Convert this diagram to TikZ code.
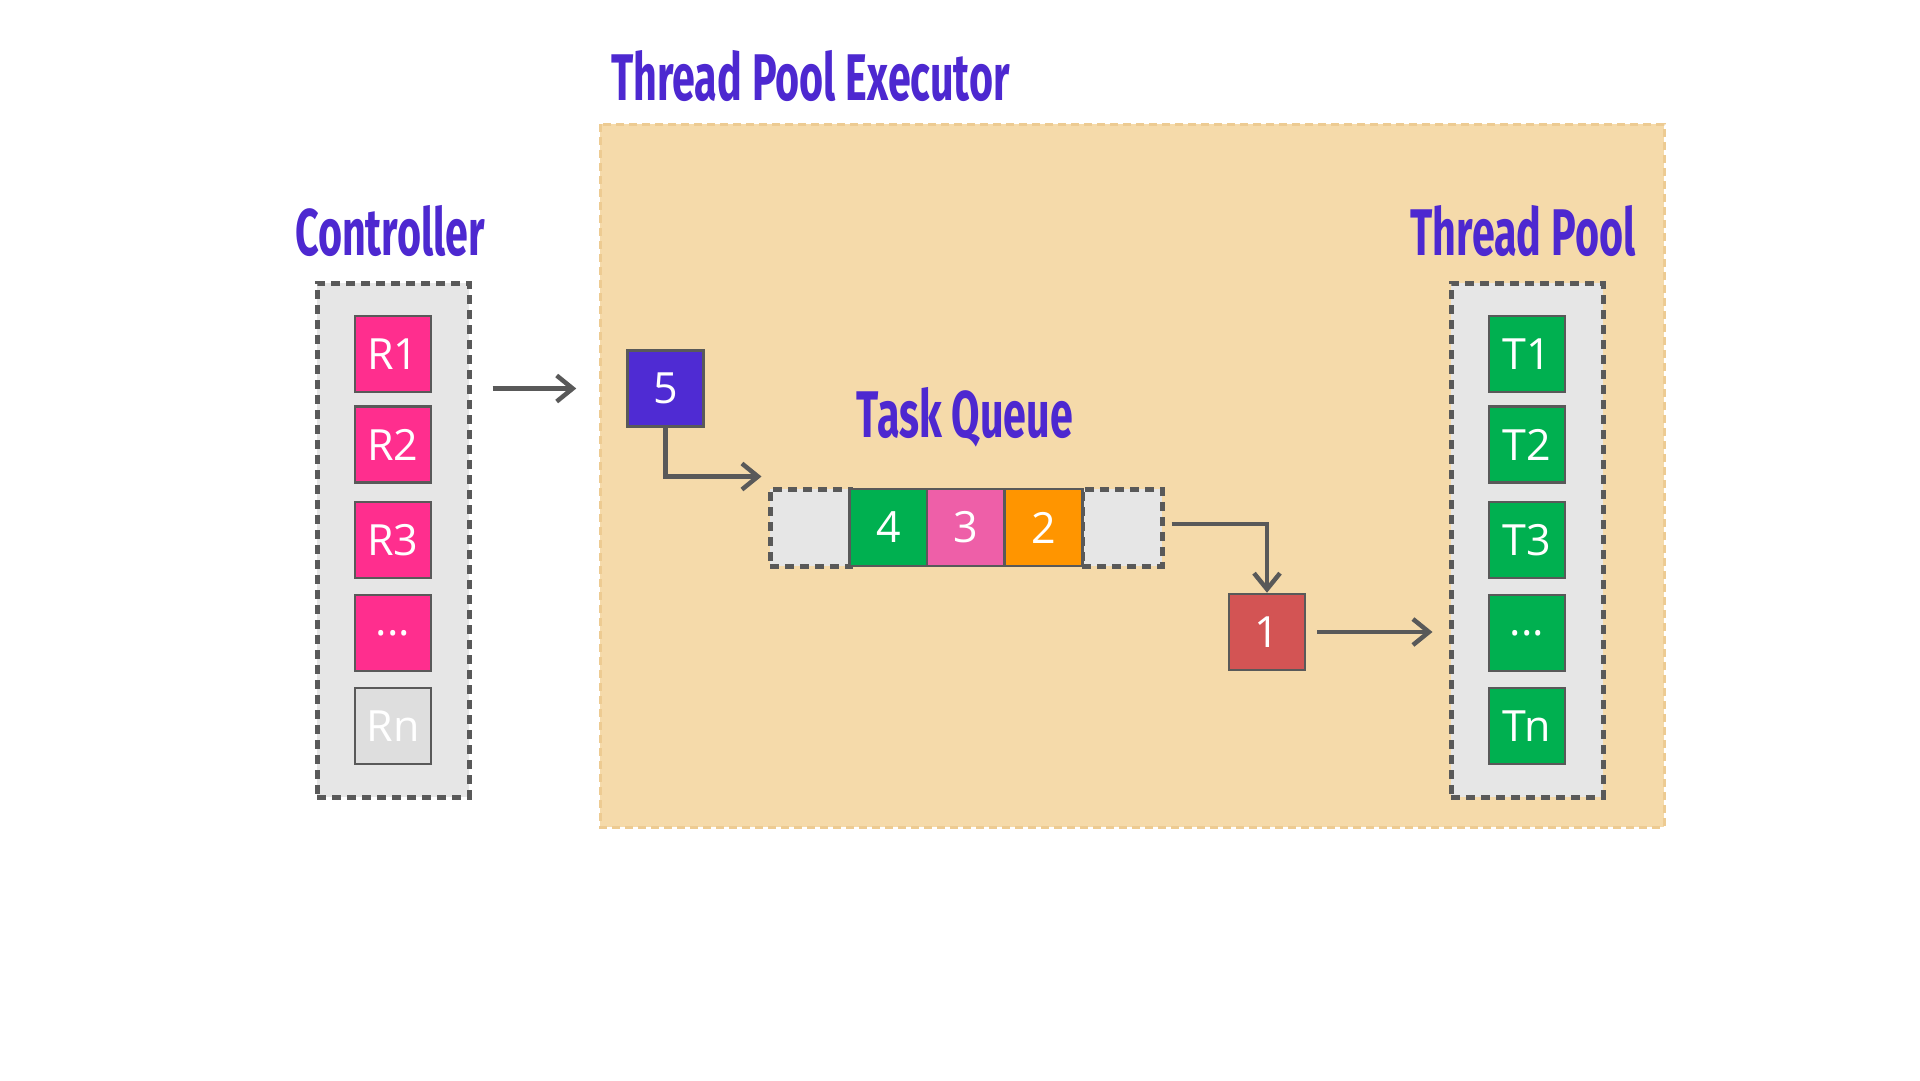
\documentclass[tikz,border=0pt]{standalone}
\usepackage{fontspec}
\usepackage{graphicx}
\setmainfont{Open Sans}
\newfontfamily\titlefont{Fira Sans}
\usetikzlibrary{arrows.meta,positioning,calc}
\definecolor{titlec}{HTML}{4D28D0}
\definecolor{pinkR}{HTML}{FF2E8E}
\definecolor{greenT}{HTML}{00B050}
\definecolor{pinkQ}{HTML}{EE5FA8}
\definecolor{orangeQ}{HTML}{FF9500}
\definecolor{purpleF}{HTML}{4F2BD3}
\definecolor{redO}{HTML}{D35454}
\definecolor{beige}{HTML}{F5DAAA}
\definecolor{beigeline}{HTML}{EDCB92}
\definecolor{contgray}{HTML}{E6E6E6}
\definecolor{rngray}{HTML}{DEDEDE}
\definecolor{darkg}{HTML}{595959}
\tikzset{
  cell/.style={draw=darkg, line width=2.5pt, minimum width=76pt, minimum height=76pt, inner sep=0pt,
    text=white, font=\fontsize{43}{43}\selectfont},
  cont/.style={draw=darkg, fill=contgray, line width=5pt, dash pattern=on 9pt off 6pt},
  qempty/.style={draw=darkg, fill=contgray, line width=5pt, dash pattern=on 9pt off 6pt,
    minimum width=80pt, minimum height=77pt, inner sep=0pt},
  ttl/.style={text=titlec, font=\titlefont\bfseries\fontsize{66}{66}\selectfont, inner sep=0pt},
  arr/.style={draw=darkg, line width=4.5pt, -{Straight Barb[length=16pt,width=26pt,line width=4.5pt]}},
}
\newcommand{\sqz}[1]{\scalebox{0.625}[1]{#1}}
\begin{document}
\begin{tikzpicture}[x=1pt,y=-1pt]
\useasboundingbox[fill=white] (0,0) rectangle (1920,1080);
% executor area
\path[fill=beige, draw=beigeline, line width=3pt, dash pattern=on 8pt off 5pt] (600,124) rectangle (1664,827);
\node[ttl, anchor=base west] (exectitle) at (611,100) {\sqz{Thread Pool Executor}};
% controller
\node[cont, minimum width=152pt, minimum height=514pt, inner sep=0pt] (ctrl) at (393,540) {};
\node[ttl, anchor=base] (ctrltitle) at (390,255) {\sqz{Controller}};
\node[cell, fill=pinkR] (r1) at (393,354) {R1};
\node[cell, fill=pinkR] (r2) at (393,444.5) {R2};
\node[cell, fill=pinkR] (r3) at (393,540) {R3};
\node[cell, fill=pinkR] (rd) at (393,633) {...};
\node[cell, fill=rngray] (rn) at (393,726) {Rn};
% thread pool
\node[cont, minimum width=152pt, minimum height=514pt, inner sep=0pt] (pool) at (1527,540) {};
\node[ttl, anchor=base] (pooltitle) at (1523,255) {\sqz{Thread Pool}};
\node[cell, fill=greenT] (t1) at (1527,354) {T1};
\node[cell, fill=greenT] (t2) at (1527,444.5) {T2};
\node[cell, fill=greenT] (t3) at (1527,540) {T3};
\node[cell, fill=greenT] (td) at (1527,633) {...};
\node[cell, fill=greenT] (tn) at (1527,726) {Tn};
% task queue
\node[ttl, anchor=base] (qtitle) at (965,437) {\sqz{Task Queue}};
\node[qempty] (qL) at (810,527.5) {};
\node[qempty] (qR) at (1122,527.5) {};
\node[cell, fill=greenT, minimum width=78pt, minimum height=77pt] (q4) at (888.5,527.5) {4};
\node[cell, fill=pinkQ, minimum width=78pt, minimum height=77pt] (q3) at (966,527.5) {3};
\node[cell, fill=orangeQ, minimum width=78pt, minimum height=77pt] (q2) at (1043.5,527.5) {2};
% tasks
\node[cell, fill=purpleF] (five) at (665.5,388.5) {5};
\node[cell, fill=redO] (one) at (1267,632) {1};
% connectors
\draw[arr] ([xshift=21pt]ctrl.east |- five.west) -- ([xshift=-50pt]five.west);
\draw[arr] (five.south) |- ([xshift=-6pt,yshift=10pt]qL.north west);
\draw[arr] ([xshift=7pt,yshift=3.5pt]qR.east) -| (one.north);
\draw[arr] ([xshift=11pt]one.east) -- ([xshift=-16pt]pool.west |- one.east);
\end{tikzpicture}
\end{document}
